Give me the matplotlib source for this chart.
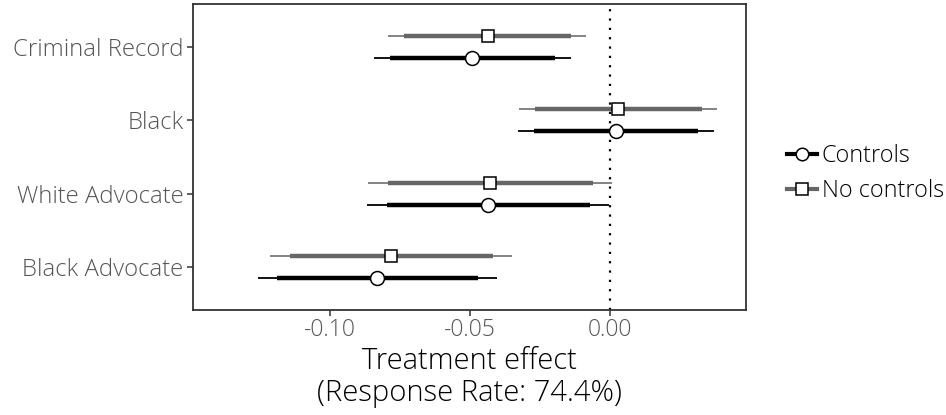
import matplotlib
matplotlib.use("Agg")
import matplotlib.pyplot as plt
from matplotlib.lines import Line2D
import numpy as np

plt.rcParams['font.family'] = ['Open Sans', 'DejaVu Sans']
plt.rcParams['font.weight'] = 'light'
plt.rcParams['axes.labelweight'] = 'light'

categories = ["Black Advocate", "White Advocate", "Black", "Criminal Record"]
xticks = [-0.10, -0.05, 0.00]
xtick_labels = ["-0.10", "-0.05", "0.00"]

# Controls (circle, black)
ctrl_est = [-0.0832, -0.0434, 0.0022, -0.0491]
ctrl_lo95 = [-0.1258, -0.0866, -0.0329, -0.0842]
ctrl_hi95 = [-0.0403, -0.0001, 0.0371, -0.0139]
ctrl_lo90 = [-0.1189, -0.0795, -0.0272, -0.0784]
ctrl_hi90 = [-0.0472, -0.0070, 0.0315, -0.0196]

# No controls (square, gray)
nc_est = [-0.0783, -0.0426, 0.0031, -0.0436]
nc_lo95 = [-0.1213, -0.0862, -0.0324, -0.0791]
nc_hi95 = [-0.0350, 0.0009, 0.0384, -0.0083]
nc_lo90 = [-0.1144, -0.0792, -0.0266, -0.0734]
nc_hi90 = [-0.0418, -0.0061, 0.0328, -0.0139]

fig = plt.figure(figsize=(9.46, 4.15), dpi=100)
ax = fig.add_axes([0.2043, 0.253, 0.5840, 0.7374])

ypos = np.arange(1, len(categories) + 1)
off = 0.15

ax.axvline(0, color='black', lw=1.6, linestyle=(0, (1, 3.2)), zorder=1)

series = [
    (ctrl_est, ctrl_lo95, ctrl_hi95, ctrl_lo90, ctrl_hi90, -off, 'black', 'black', 'o', 10),
    (nc_est, nc_lo95, nc_hi95, nc_lo90, nc_hi90, off, '#7a7a7a', '#666666', 's', 9.2),
]
for est, lo95, hi95, lo90, hi90, dy, c_thin, c_thick, mk, ms in series:
    y = ypos + dy
    ax.hlines(y, lo95, hi95, color=c_thin, lw=1.3, zorder=2)
    ax.hlines(y, lo90, hi90, color=c_thick, lw=3.2, zorder=3)
    ax.plot(est, y, linestyle='none', marker=mk, markersize=ms,
            markerfacecolor='white', markeredgecolor='black',
            markeredgewidth=1.1, zorder=4)

ax.set_xlim(-0.1488, 0.0486)
ax.set_ylim(0.41, 4.59)
ax.set_yticks(ypos)
ax.set_yticklabels(categories, fontsize=17.2)
ax.set_xticks(xticks)
ax.set_xticklabels(xtick_labels, fontsize=16.5)
ax.tick_params(axis='both', colors='#333333', length=4, width=1.1,
               labelcolor='#555555')
ax.tick_params(axis='y', pad=3)
ax.tick_params(axis='x', pad=2)
for s in ax.spines.values():
    s.set_color('#333333')
    s.set_linewidth(1.3)

ax.set_xlabel("Treatment effect\n(Response Rate: 74.4%)", fontsize=21,
              color='black', labelpad=3, linespacing=1.1, fontweight='light')

handles = [
    Line2D([0], [0], color='black', lw=3, marker='o', markersize=9,
           markerfacecolor='white', markeredgecolor='black', markeredgewidth=1.1),
    Line2D([0], [0], color='#666666', lw=3, marker='s', markersize=8.5,
           markerfacecolor='white', markeredgecolor='black', markeredgewidth=1.1),
]
fig.legend(handles, ["Controls", "No controls"], loc='center left',
           bbox_to_anchor=(0.822, 0.582), frameon=False,
           prop={'family': ['Open Sans', 'DejaVu Sans'], 'weight': 'light', 'size': 16.8},
           handlelength=1.3, handletextpad=0.2, labelspacing=0.45,
           borderaxespad=0)

fig.savefig("out.png", dpi=100)
